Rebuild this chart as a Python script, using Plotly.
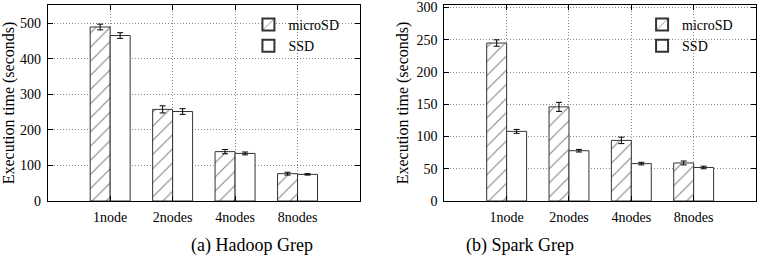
import plotly.graph_objects as go
from plotly.subplots import make_subplots

categories = ["1node", "2nodes", "4nodes", "8nodes"]
hadoop_microsd = [490, 258, 139, 77]
hadoop_microsd_err = [8, 10, 6, 4]
hadoop_ssd = [466, 252, 134, 75]
hadoop_ssd_err = [8, 8, 4, 2]
spark_microsd = [245, 146, 94, 59]
spark_microsd_err = [5, 7, 5, 3]
spark_ssd = [108, 78, 58, 52]
spark_ssd_err = [3, 2, 2, 2]
captions = ["(a) Hadoop Grep", "(b) Spark Grep"]
series_names = ["microSD", "SSD"]

FONT = "Liberation Serif"

fig = make_subplots(rows=1, cols=2)

panels = [
    (hadoop_microsd, hadoop_microsd_err, hadoop_ssd, hadoop_ssd_err, "legend"),
    (spark_microsd, spark_microsd_err, spark_ssd, spark_ssd_err, "legend2"),
]
for i, (m, me, s, se, leg) in enumerate(panels):
    col = i + 1
    fig.add_trace(go.Bar(
        x=categories, y=m, name=series_names[0], legend=leg,
        marker=dict(color="white", line=dict(color="#333333", width=1),
                    pattern=dict(shape="/", fgcolor="black", bgcolor="white",
                                 size=10, solidity=0.1)),
        error_y=dict(type="data", array=me, color="black", thickness=1, width=3),
    ), row=1, col=col)
    fig.add_trace(go.Bar(
        x=categories, y=s, name=series_names[1], legend=leg,
        marker=dict(color="white", line=dict(color="#333333", width=1)),
        error_y=dict(type="data", array=se, color="black", thickness=1, width=3),
    ), row=1, col=col)

axis_common = dict(showline=True, linecolor="black", linewidth=1, mirror="ticks",
                   ticks="inside", ticklen=5, tickcolor="black", automargin=False,
                   showgrid=True, gridcolor="#888888", griddash="1px,2px", gridwidth=1,
                   zeroline=False, tickfont=dict(family=FONT, size=14, color="black"))

ydom = [55 / 256, 251 / 256]
fig.update_layout(
    xaxis=dict(domain=[47.7 / 757, 360 / 757], range=[-1, 4], ticklabelstandoff=3, **axis_common),
    xaxis2=dict(domain=[444.3 / 757, 756 / 757], range=[-1, 4], ticklabelstandoff=3, **axis_common),
    yaxis=dict(domain=ydom, range=[0, 552], dtick=100, ticklabelstandoff=3, **axis_common,
               title=dict(text="Execution time (seconds)",
                          font=dict(family=FONT, size=16, color="black"), standoff=3)),
    yaxis2=dict(domain=ydom, range=[0, 304], dtick=50, ticklabelstandoff=3, **axis_common,
                title=dict(text="Execution time (seconds)",
                           font=dict(family=FONT, size=16, color="black"), standoff=3)),
)

fig.update_layout(
    width=757, height=256,
    margin=dict(l=0, r=0, t=0, b=0, autoexpand=False),
    plot_bgcolor="white", paper_bgcolor="white",
    barmode="group", bargap=0.36, bargroupgap=0,
    font=dict(family=FONT, size=14, color="black"),
    legend=dict(x=0.455, y=0.965, xanchor="right", yanchor="top",
                bgcolor="rgba(0,0,0,0)", font=dict(family=FONT, size=14),
                tracegroupgap=0, itemsizing="constant"),
    legend2=dict(x=0.975, y=0.965, xanchor="right", yanchor="top",
                 bgcolor="rgba(0,0,0,0)", font=dict(family=FONT, size=14),
                 tracegroupgap=0, itemsizing="constant"),
)

fig.add_annotation(text=captions[0], x=189 / 757, y=(256 - 245) / 256,
                   xref="paper", yref="paper", showarrow=False, yanchor="middle",
                   font=dict(family=FONT, size=18, color="black"))
fig.add_annotation(text=captions[1], x=576 / 757, y=(256 - 245) / 256,
                   xref="paper", yref="paper", showarrow=False, yanchor="middle",
                   font=dict(family=FONT, size=18, color="black"))

fig.write_html("out.html")
